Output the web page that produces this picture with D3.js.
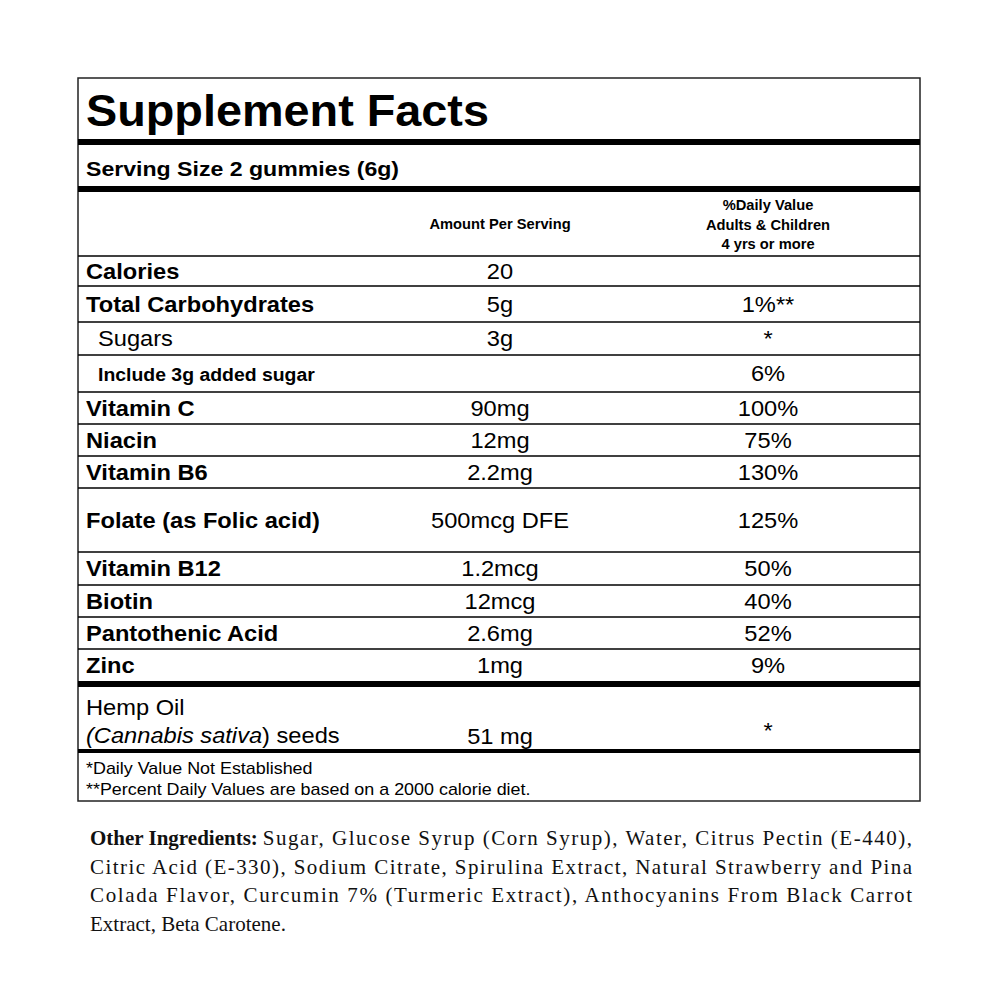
<!DOCTYPE html>
<html><head><meta charset="utf-8">
<script src="https://cdn.jsdelivr.net/npm/d3@7"></script>
<style>body{margin:0;background:#fff}</style></head>
<body><svg id="c" width="1000" height="1000"></svg>
<script>
const nutrients = ["Calories","Total Carbohydrates","Sugars","Include 3g added sugar","Vitamin C","Niacin","Vitamin B6","Folate (as Folic acid)","Vitamin B12","Biotin","Pantothenic Acid","Zinc"];
const amounts = ["20","5g","3g","","90mg","12mg","2.2mg","500mcg DFE","1.2mcg","12mcg","2.6mg","1mg"];
const dailyValues = ["","1%**","*","6%","100%","75%","130%","125%","50%","40%","52%","9%"];
const rowUnits = [30,36,33,37,32,32,32,64,33,32,32,32];
const footnotes = ["*Daily Value Not Established","**Percent Daily Values are based on a 2000 calorie diet."];
const ingredientLines = ["Sugar, Glucose Syrup (Corn Syrup), Water, Citrus Pectin (E-440),","Citric Acid (E-330), Sodium Citrate, Spirulina Extract, Natural Strawberry and Pina","Colada Flavor, Curcumin 7% (Turmeric Extract), Anthocyanins From Black Carrot","Extract, Beta Carotene."];

const svg=d3.select("#c");
const L=78,R=920,T=78,B=801;
const sans="Liberation Sans, Arial, sans-serif";
// horizontally widened text helper
function wtext(x,yy,str,size,opts={}){
  const sx=opts.sx||1.1;
  const anchor=opts.anchor||"start";
  const g=svg.append("g").attr("transform",`translate(${x},${yy}) scale(${sx},1)`);
  return g.append("text").attr("x",0).attr("y",0).attr("text-anchor",anchor).attr("font-family",sans)
    .attr("font-weight",opts.bold?"bold":"normal").attr("font-size",size).text(str);
}
svg.append("rect").attr("x",L).attr("y",T).attr("width",R-L).attr("height",B-T).attr("fill","none").attr("stroke","#222").attr("stroke-width",1.5);
wtext(86,126,"Supplement Facts",45,{bold:true,sx:1.04});
const hline=(y,w)=>svg.append("line").attr("x1",L).attr("x2",R).attr("y1",y).attr("y2",y).attr("stroke","#000").attr("stroke-width",w);
hline(142,6);
wtext(86,176,"Serving Size 2 gummies (6g)",21,{bold:true,sx:1.1});
hline(189,6);
const xc=d3.scaleOrdinal().domain(["amt","dv"]).range([500,768]);
wtext(xc("amt"),229,"Amount Per Serving",14,{bold:true,anchor:"middle",sx:1.05});
["%Daily Value","Adults & Children","4 yrs or more"].forEach((t,i)=>wtext(xc("dv"),210+i*19.5,t,14,{bold:true,anchor:"middle",sx:1.05}));
hline(256,1.5);
const cum=[256];rowUnits.forEach(u=>cum.push(cum[cum.length-1]+u));
const y=d3.scaleOrdinal().domain(nutrients).range(cum.slice(0,-1));
nutrients.forEach((n,i)=>{
  const top=y(n),h=rowUnits[i],mid=top+h/2+7.5;
  const bold=!(n==="Sugars");
  const indent=(n==="Sugars"||n.startsWith("Include"))?98:86;
  const isInc=n.startsWith("Include");
  wtext(indent,mid,n,isInc?18.5:21.5,{bold,sx:isInc?1.05:1.1});
  wtext(xc("amt"),mid,amounts[i],21.5,{anchor:"middle"});
  wtext(xc("dv"),mid,dailyValues[i],21.5,{anchor:"middle"});
  if(i<nutrients.length-1) hline(top+h,1.5);
});
const zEnd=cum[cum.length-1];
hline(zEnd+3,6);
wtext(86,715,"Hemp Oil",21.5);
const g2=svg.append("g").attr("transform","translate(86,743) scale(1.1,1)");
const t2=g2.append("text").attr("font-family",sans).attr("font-size",21.5);
t2.append("tspan").attr("font-style","italic").text("(Cannabis sativa");t2.append("tspan").text(") seeds");
wtext(xc("amt"),744,"51 mg",21.5,{anchor:"middle"});
wtext(xc("dv"),738,"*",21.5,{anchor:"middle"});
hline(751,4);
footnotes.forEach((f,i)=>wtext(86,774+i*21,f,16,{sx:1.12}));
// ingredients
const serif="Liberation Serif, Times New Roman, serif";
const ly=d3.scaleLinear().domain([0,3]).range([845,931]);
const head=svg.append("text").attr("x",90).attr("y",845).attr("font-family",serif).attr("font-size",21).attr("font-weight","bold").attr("fill","#111").text("Other Ingredients:");
const hw=head.node().getComputedTextLength();
ingredientLines.forEach((l,i)=>{
  const x0=i===0?90+hw+5:90;
  const t=svg.append("text").attr("x",x0).attr("y",ly(i)).attr("font-family",serif).attr("font-size",21).attr("fill","#111");
  if(i<ingredientLines.length-1) t.attr("textLength",912-x0).attr("lengthAdjust","spacing");
  t.text(l);
});
</script></body></html>
